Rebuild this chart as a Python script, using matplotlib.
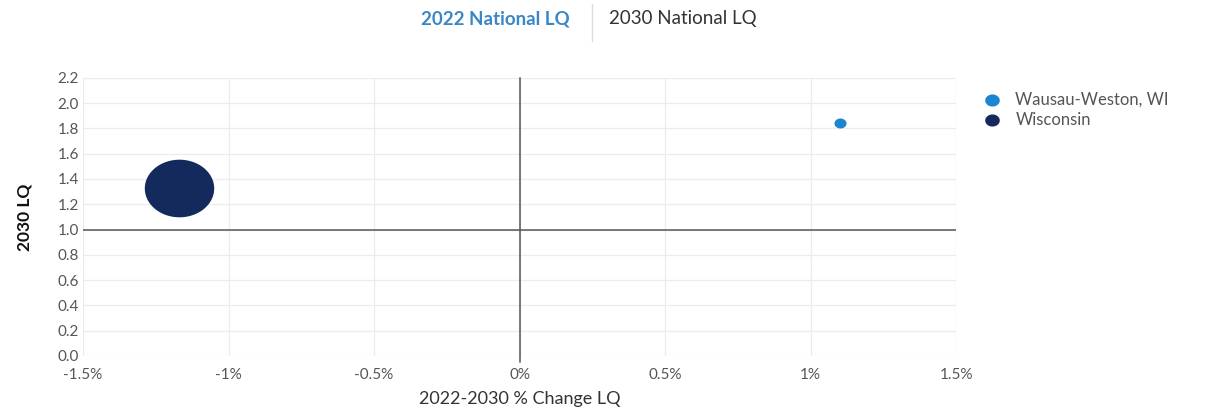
import numpy as np
import matplotlib.pyplot as plt
from matplotlib.path import Path
from matplotlib.ticker import FuncFormatter

plt.rcParams['font.family'] = ['Lato', 'DejaVu Sans']

regions = ['Wausau-Weston, WI', 'Wisconsin']
pct_change = [1.10, -1.17]       # 2022-2030 % change in LQ
lq_2030 = [1.84, 1.33]
bubble_size = [75, 2500]
colors = ['#1a85d0', '#142a5c']

x_ticks = [-1.5, -1.0, -0.5, 0.0, 0.5, 1.0, 1.5]
y_ticks = np.round(np.arange(0, 2.21, 0.2), 1)

# slightly wide ellipse marker
t = np.linspace(0, 2 * np.pi, 80)
ell = Path(np.column_stack([np.cos(t), 0.83 * np.sin(t)]), closed=True)

fig = plt.figure(figsize=(12.05, 4.12), dpi=100)
ax = fig.add_axes([0.0689, 0.136, 0.7245, 0.675])

for name, x, y, s, c in zip(regions, pct_change, lq_2030, bubble_size, colors):
    ax.scatter(x, y, s=s, color=c, marker=ell, zorder=3, label=name, linewidths=0)

ax.axhline(1.0, color='#555555', lw=1.1, zorder=2)
ax.axvline(0.0, color='#555555', lw=1.1, zorder=2, ymin=-0.02, clip_on=False)

ax.set_xlim(-1.5, 1.5)
ax.set_ylim(0, 2.2)
ax.set_xticks(x_ticks)
ax.set_yticks(y_ticks)
ax.xaxis.set_major_formatter(FuncFormatter(lambda v, p: f'{v:g}%'))
ax.yaxis.set_major_formatter(FuncFormatter(lambda v, p: f'{v:.1f}'))
ax.grid(True, color='#ececec', lw=0.9, zorder=0)
for sp in ax.spines.values():
    sp.set_visible(False)
ax.tick_params(length=0, labelsize=11, labelcolor='#555555', pad=3)
ax.tick_params(axis='x', pad=9)

ax.set_xlabel('2022-2030 % Change LQ', fontsize=13, color='#333333', labelpad=6)
ax.set_ylabel('2030 LQ', fontsize=12.5, color='#111111', fontweight='bold', labelpad=18)

leg = ax.legend(loc='upper left', bbox_to_anchor=(1.005, 1.005), frameon=False,
                fontsize=12, handletextpad=0.4, labelspacing=0.25,
                markerscale=1.0, scatterpoints=1)
for h in leg.legend_handles:
    h.set_sizes([110])
for txt in leg.get_texts():
    txt.set_color('#555555')

fig.text(0.411, 0.955, '2022 National LQ', color='#3a87c8', fontsize=13.5,
         fontweight='bold', ha='center', va='center')
fig.text(0.567, 0.955, '2030 National LQ', color='#333333', fontsize=13.5,
         ha='center', va='center')
fig.add_artist(plt.Line2D([0.491, 0.491], [0.90, 0.99], color='#dddddd', lw=1))

fig.savefig('out.png', dpi=100)
